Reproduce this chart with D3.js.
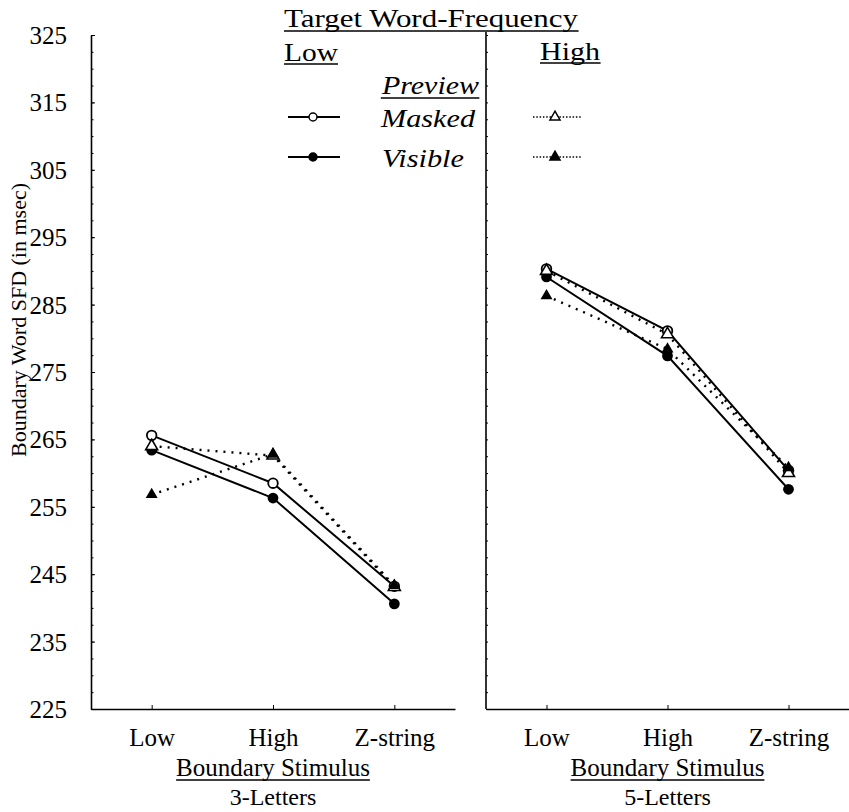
<!DOCTYPE html>
<html><head><meta charset="utf-8">
<script src="https://cdn.jsdelivr.net/npm/d3@7/dist/d3.min.js"></script>
<style>
html,body{margin:0;padding:0;background:#fff;}
text{font-family:"Liberation Serif","Times New Roman",serif;fill:#000;}
</style></head>
<body><svg id="chart" width="849" height="812"></svg>
<script>
// ---- data ----
const categories = ["Low", "High", "Z-string"];
const panels = ["3-Letters", "5-Letters"];
const yTicks = [225, 235, 245, 255, 265, 275, 285, 295, 305, 315, 325];
// Low target word-frequency (solid lines, circles)
const lowMasked3  = [265.6, 258.5, 243.2];
const lowVisible3 = [263.4, 256.3, 240.6];
const lowMasked5  = [290.3, 281.1, 260.4];
const lowVisible5 = [289.1, 277.4, 257.6];
// High target word-frequency (dotted lines, triangles)
const highMasked3  = [264.0, 262.6, 243.1];
const highVisible3 = [256.8, 262.8, 243.3];
const highMasked5  = [290.0, 280.6, 260.0];
const highVisible5 = [286.3, 278.4, 260.8];

const seriesByPanel = [
  {masked: lowMasked3, visible: lowVisible3, hMasked: highMasked3, hVisible: highVisible3},
  {masked: lowMasked5, visible: lowVisible5, hMasked: highMasked5, hVisible: highVisible5}
];

const svg = d3.select("#chart");
const y = d3.scaleLinear().domain([225, 325]).range([709, 35]);
const xScales = [
  d3.scalePoint().domain(categories).range([91, 455]).padding(0.5),
  d3.scalePoint().domain(categories).range([486, 849]).padding(0.5)
];

// y axis (left)
const yAx = svg.append("g").attr("transform", "translate(91,0)")
  .call(d3.axisLeft(y).tickValues(yTicks).tickSizeInner(-4).tickSizeOuter(0).tickPadding(24).tickFormat(d3.format("d")));
yAx.selectAll("text").style("font-size", "25px").attr("dy", "0.34em");
yAx.select(".domain").attr("stroke-width", 1.6);
svg.append("g").attr("transform", "translate(91,0)")
  .call(d3.axisLeft(y).tickValues(d3.range(225, 325.1, 2.5)).tickSizeInner(-2.5).tickSizeOuter(0).tickFormat(""))
  .select(".domain").remove();

// right panel vertical line
svg.append("line").attr("x1", 486).attr("x2", 486).attr("y1", 32).attr("y2", y(225))
  .attr("stroke", "#000").attr("stroke-width", 1.6);
svg.append("g").attr("transform", "translate(486,0)")
  .call(d3.axisLeft(y).tickValues(d3.range(225, 325.1, 2.5)).tickSizeInner(-2).tickSizeOuter(0).tickFormat(""))
  .select(".domain").remove();

// y axis title
svg.append("text").attr("transform", "translate(26,320) rotate(-90)")
  .attr("text-anchor", "middle").style("font-size", "22px")
  .text("Boundary Word SFD (in msec)");

function underline(sel, dy) {
  const bb = sel.node().getBBox();
  svg.append("line").attr("x1", bb.x).attr("x2", bb.x + bb.width)
    .attr("y1", +sel.attr("y") + dy).attr("y2", +sel.attr("y") + dy)
    .attr("stroke", "#000").attr("stroke-width", 1.3);
}

const lineGen = (xs) => d3.line().x((d, i) => xs(categories[i])).y(d => y(d));
const tri = d3.symbol().type(d3.symbolTriangle).size(62);

panels.forEach((p, pi) => {
  const xs = xScales[pi];
  const xAx = svg.append("g").attr("transform", `translate(0,${y(225)})`)
    .call(d3.axisBottom(xs).tickSizeInner(-4).tickSizeOuter(0).tickPadding(19));
  xAx.selectAll("text").style("font-size", "25px");
  xAx.select(".domain").attr("stroke-width", 1.6);

  const cx = (xs.range()[0] + xs.range()[1]) / 2;
  const t1 = svg.append("text").attr("x", cx).attr("y", 776).attr("text-anchor", "middle")
    .style("font-size", "25px").text("Boundary Stimulus");
  underline(t1, 4);
  svg.append("text").attr("x", cx).attr("y", 805).attr("text-anchor", "middle")
    .style("font-size", "24px").text(p);

  const s = seriesByPanel[pi];
  const g = svg.append("g");
  // dotted lines (high frequency)
  [s.hMasked, s.hVisible].forEach(arr => {
    g.append("path").datum(arr).attr("d", lineGen(xs)).attr("fill", "none")
      .attr("stroke", "#000").attr("stroke-width", 2.4).attr("stroke-dasharray", "2,6");
  });
  // solid lines (low frequency)
  [s.masked, s.visible].forEach(arr => {
    g.append("path").datum(arr).attr("d", lineGen(xs)).attr("fill", "none")
      .attr("stroke", "#000").attr("stroke-width", 2);
  });
  // markers
  g.selectAll(".om").data(s.masked).join("circle")
    .attr("cx", (d, i) => xs(categories[i])).attr("cy", d => y(d)).attr("r", 4.8)
    .attr("fill", "#fff").attr("stroke", "#000").attr("stroke-width", 1.8);
  g.selectAll(".fv").data(s.visible).join("circle")
    .attr("cx", (d, i) => xs(categories[i])).attr("cy", d => y(d)).attr("r", 5.4)
    .attr("fill", "#000");
  g.selectAll(".ot").data(s.hMasked).join("path")
    .attr("transform", (d, i) => `translate(${xs(categories[i])},${y(d)})`)
    .attr("d", tri).attr("fill", "#fff").attr("stroke", "#000").attr("stroke-width", 1.6);
  g.selectAll(".ft").data(s.hVisible).join("path")
    .attr("transform", (d, i) => `translate(${xs(categories[i])},${y(d)})`)
    .attr("d", tri).attr("fill", "#000");
});

// header / legend
const hdr = svg.append("text").attr("x", 431).attr("y", 27).attr("text-anchor", "middle")
  .style("font-size", "25px").attr("textLength", 294).attr("lengthAdjust", "spacingAndGlyphs")
  .text("Target Word-Frequency");
underline(hdr, 4);
const lowT = svg.append("text").attr("x", 284).attr("y", 61).style("font-size", "25px")
  .attr("textLength", 54).attr("lengthAdjust", "spacingAndGlyphs").text("Low");
underline(lowT, 3);
const highT = svg.append("text").attr("x", 540).attr("y", 60).style("font-size", "25px")
  .attr("textLength", 60).attr("lengthAdjust", "spacingAndGlyphs").text("High");
underline(highT, 3);
const prev = svg.append("text").attr("x", 382).attr("y", 94).style("font-size", "25px")
  .style("font-style", "italic").attr("textLength", 97).attr("lengthAdjust", "spacingAndGlyphs").text("Preview");
underline(prev, 4);
svg.append("text").attr("x", 381).attr("y", 127).style("font-size", "25px")
  .style("font-style", "italic").attr("textLength", 94).attr("lengthAdjust", "spacingAndGlyphs").text("Masked");
svg.append("text").attr("x", 382).attr("y", 167).style("font-size", "25px")
  .style("font-style", "italic").attr("textLength", 82).attr("lengthAdjust", "spacingAndGlyphs").text("Visible");

const legRows = [{yy: 117, fill: "#fff"}, {yy: 157, fill: "#000"}];
legRows.forEach(r => {
  svg.append("line").attr("x1", 288).attr("x2", 340).attr("y1", r.yy).attr("y2", r.yy)
    .attr("stroke", "#000").attr("stroke-width", 2);
  svg.append("circle").attr("cx", 313).attr("cy", r.yy).attr("r", 4)
    .attr("fill", r.fill).attr("stroke", "#000").attr("stroke-width", 1.5);
  svg.append("line").attr("x1", 533).attr("x2", 582).attr("y1", r.yy).attr("y2", r.yy)
    .attr("stroke", "#000").attr("stroke-width", 1.6).attr("stroke-dasharray", "1.5,1.8");
  svg.append("path").attr("transform", `translate(555,${r.yy})`).attr("d", d3.symbol().type(d3.symbolTriangle).size(44))
    .attr("fill", r.fill).attr("stroke", "#000").attr("stroke-width", 1.5);
});
</script></body></html>
